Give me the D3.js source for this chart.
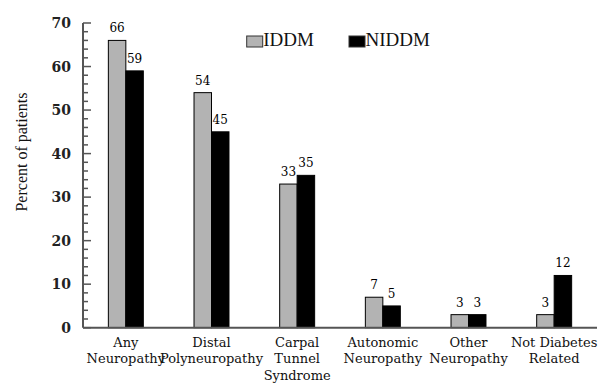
<!DOCTYPE html>
<html>
<head>
<meta charset="utf-8">
<script src="https://cdn.jsdelivr.net/npm/d3@7"></script>
<style>
  html, body { margin: 0; padding: 0; background: #fff; }
  svg { display: block; }
</style>
</head>
<body>
<svg id="chart" width="605" height="383"></svg>
<script>
// Neuropathy prevalence by diabetes type
const categories = [
  ["Any", "Neuropathy"],
  ["Distal", "Polyneuropathy"],
  ["Carpal", "Tunnel", "Syndrome"],
  ["Autonomic", "Neuropathy"],
  ["Other", "Neuropathy"],
  ["Not Diabetes", "Related"]
];
const seriesNames = ["IDDM", "NIDDM"];
const iddm  = [66, 54, 33, 7, 3, 3];
const niddm = [59, 45, 35, 5, 3, 12];
const yTicks = [0, 10, 20, 30, 40, 50, 60, 70];
const seriesColors = ["#b3b3b3", "#000000"];

const svg = d3.select("#chart");
const plotLeft = 83, plotRight = 597, plotTop = 23, plotBottom = 327.7;

const x = d3.scaleBand()
  .domain(d3.range(categories.length))
  .range([plotLeft, plotRight])
  .paddingInner(0).paddingOuter(0);

const xs = d3.scaleBand()
  .domain(seriesNames)
  .range([0, x.bandwidth()])
  .paddingInner(0).paddingOuter(1.45);

const y = d3.scaleLinear().domain([0, 70]).range([plotBottom, plotTop]);

const color = d3.scaleOrdinal().domain(seriesNames).range(seriesColors);

const rows = categories.map((c, i) => ({ i, values: [iddm[i], niddm[i]] }));

// Bars
const groups = svg.append("g").selectAll("g")
  .data(rows).join("g")
  .attr("transform", d => `translate(${x(d.i)},0)`);

groups.selectAll("rect")
  .data(d => d.values.map((v, k) => ({ key: seriesNames[k], v })))
  .join("rect")
  .attr("x", d => xs(d.key))
  .attr("y", d => y(d.v))
  .attr("width", xs.bandwidth())
  .attr("height", d => y(0) - y(d.v))
  .attr("fill", d => color(d.key))
  .attr("stroke", "#000")
  .attr("stroke-width", 1);

// Value labels
groups.selectAll("text.val")
  .data(d => d.values.map((v, k) => ({ key: seriesNames[k], v })))
  .join("text")
  .attr("class", "val")
  .attr("x", d => xs(d.key) + xs.bandwidth() / 2)
  .attr("y", d => y(d.v) - 8)
  .attr("text-anchor", "middle")
  .attr("font-family", "DejaVu Serif")
  .attr("font-size", 12)
  .attr("fill", "#000")
  .text(d => d.v);

// Y axis: ticks point inward, minor ticks every 2
const axisColor = "#555";
const yAxis = svg.append("g");
yAxis.append("line")
  .attr("x1", plotLeft).attr("x2", plotLeft)
  .attr("y1", y(70)).attr("y2", y(0))
  .attr("stroke", axisColor).attr("stroke-width", 2);
yAxis.selectAll("line.minor")
  .data(d3.range(0, 71, 2).filter(v => v % 10 !== 0))
  .join("line").attr("class", "minor")
  .attr("x1", plotLeft).attr("x2", plotLeft + 5)
  .attr("y1", d => y(d)).attr("y2", d => y(d))
  .attr("stroke", axisColor).attr("stroke-width", 1.5);
yAxis.selectAll("line.major")
  .data(yTicks)
  .join("line").attr("class", "major")
  .attr("x1", plotLeft).attr("x2", plotLeft + 8)
  .attr("y1", d => y(d)).attr("y2", d => y(d))
  .attr("stroke", axisColor).attr("stroke-width", 1.5);
yAxis.selectAll("text")
  .data(yTicks)
  .join("text")
  .attr("x", 71)
  .attr("y", d => y(d))
  .attr("dy", "0.36em")
  .attr("text-anchor", "end")
  .attr("font-family", "DejaVu Serif")
  .attr("font-weight", "bold")
  .attr("font-size", 14)
  .attr("fill", "#222")
  .text(d => d);

// X baseline
svg.append("line")
  .attr("x1", plotLeft).attr("x2", plotRight)
  .attr("y1", y(0)).attr("y2", y(0))
  .attr("stroke", axisColor).attr("stroke-width", 2);

// Category labels
const catText = svg.append("g").selectAll("text")
  .data(rows).join("text")
  .attr("text-anchor", "middle")
  .attr("font-family", "DejaVu Serif")
  .attr("font-size", 13)
  .attr("fill", "#111");
catText.selectAll("tspan")
  .data(d => categories[d.i].map(line => ({ line, cx: x(d.i) + x.bandwidth() / 2 })))
  .join("tspan")
  .attr("x", d => d.cx)
  .attr("y", (d, k) => 346.5 + k * 16.8)
  .text(d => d.line);

// Y axis title
svg.append("text")
  .attr("transform", "translate(26.5,152) rotate(-90)")
  .attr("text-anchor", "middle")
  .attr("font-family", "Liberation Serif")
  .attr("font-size", 16)
  .attr("fill", "#111")
  .text("Percent of patients");

// Legend
const legendX = [246.7, 349];
const legend = svg.append("g").selectAll("g")
  .data(seriesNames).join("g")
  .attr("transform", (d, i) => `translate(${legendX[i]},36)`);
legend.append("rect")
  .attr("width", 16).attr("height", 11)
  .attr("fill", d => color(d))
  .attr("stroke", "#333").attr("stroke-width", 1);
legend.append("text")
  .attr("x", 16.5).attr("y", 10)
  .attr("font-family", "Liberation Serif")
  .attr("font-size", 19)
  .attr("fill", "#111")
  .text(d => d);
</script>
</body>
</html>
